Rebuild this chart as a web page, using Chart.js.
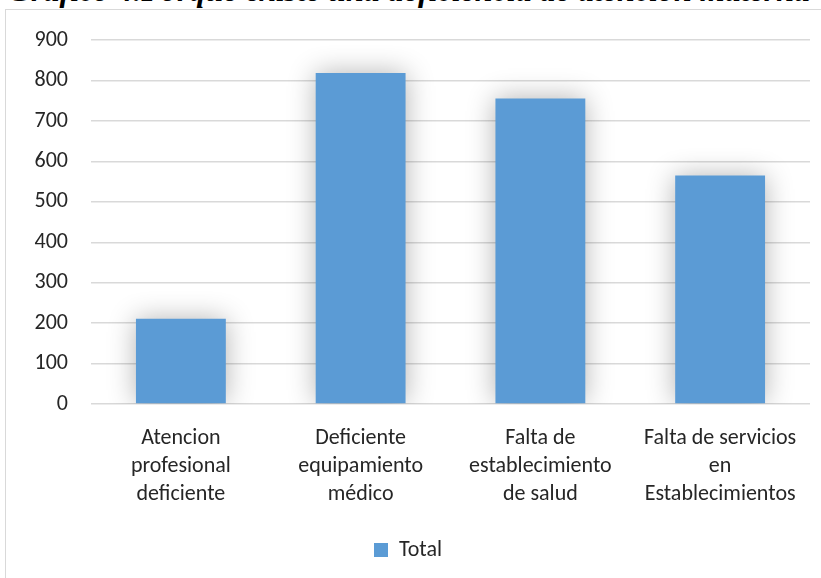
<!DOCTYPE html>
<html lang="es">
<head>
    <meta charset="UTF-8">
    <title>Gráfico 4</title>
    <script src="https://cdn.jsdelivr.net/npm/chart.js@4.4.1/dist/chart.umd.min.js"></script>
    <style>
        html, body {
            margin: 0;
            padding: 0;
            width: 821px;
            height: 578px;
            overflow: hidden;
            background: #fff;
        }

        .caption {
            position: absolute;
            left: 8px;
            top: -18px;
            font-family: 'Liberation Serif', 'DejaVu Serif', 'Times New Roman', serif;
            font-weight: bold;
            font-style: italic;
            font-size: 29px;
            line-height: 1;
            white-space: nowrap;
            color: #000;
        }

        .frame {
            position: absolute;
            left: 5px;
            top: 9px;
            width: 840px;
            height: 600px;
            border: 1.5px solid #d9d9d9;
            box-sizing: border-box;
        }

        .frame canvas {
            position: absolute;
            left: 0;
            top: -6px;
        }
    </style>
</head>
<body>
    <div class="caption" id="caption">Gráfico 4.Porque existe una deficiencia de atención materna</div>
    <div class="frame">
        <canvas id="chart" width="840" height="577"></canvas>
    </div>

    <script>
        const categories = [
            ['Atencion', 'profesional', 'deficiente'],
            ['Deficiente', 'equipamiento', 'médico'],
            ['Falta de', 'establecimiento', 'de salud'],
            ['Falta de servicios', 'en', 'Establecimientos']
        ];
        const totals = [211, 819, 756, 565];
        const yTicks = [0, 100, 200, 300, 400, 500, 600, 700, 800, 900];

        const labelFont = { family: "Carlito, Calibri, Lato, sans-serif", size: 22 };

        // caption is cut by the top of the page: stretch it to the page width, keep only its lower part visible
        const caption = document.getElementById('caption');
        const fs = 29 * 803 / caption.offsetWidth;
        caption.style.fontSize = fs + 'px';
        caption.style.top = (1 - 0.84 * fs) + 'px';

        // soft grey glow round the bars, like the office shadow effect
        const barShadow = {
            id: 'barShadow',
            beforeDatasetsDraw(chart) {
                chart.ctx.save();
                chart.ctx.shadowColor = 'rgba(0, 0, 0, 0.3)';
                chart.ctx.shadowBlur = 26;
            },
            afterDatasetsDraw(chart) {
                chart.ctx.restore();
            }
        };

        new Chart(document.getElementById('chart'), {
            type: 'bar',
            data: {
                labels: categories,
                datasets: [{
                    label: 'Total',
                    data: totals,
                    backgroundColor: '#5b9bd5',
                    borderWidth: 0,
                    categoryPercentage: 1,
                    barPercentage: 0.5
                }]
            },
            options: {
                responsive: false,
                animation: false,
                layout: {
                    padding: { left: 0, right: 36, top: 24, bottom: 10 }
                },
                plugins: {
                    tooltip: { enabled: false },
                    legend: {
                        position: 'bottom',
                        labels: {
                            color: '#262626',
                            font: labelFont,
                            boxWidth: 14,
                            boxHeight: 14,
                            padding: 13
                        }
                    }
                },
                scales: {
                    x: {
                        grid: { display: false },
                        border: { display: false },
                        afterFit(scale) {
                            scale.height += 6;
                        },
                        ticks: {
                            color: '#262626',
                            font: { ...labelFont, lineHeight: 28 / 22 },
                            padding: 12,
                            maxRotation: 0,
                            autoSkip: false
                        }
                    },
                    y: {
                        min: yTicks[0],
                        max: yTicks[yTicks.length - 1],
                        afterBuildTicks(scale) {
                            scale.ticks = yTicks.map(v => ({ value: v }));
                        },
                        afterFit(scale) {
                            scale.width = 85;
                        },
                        grid: {
                            color: '#d9d9d9',
                            lineWidth: 1.5,
                            drawTicks: false
                        },
                        border: { display: false },
                        ticks: {
                            color: '#262626',
                            font: labelFont,
                            padding: 23
                        }
                    }
                }
            },
            plugins: [barShadow]
        });
    </script>
</body>
</html>
